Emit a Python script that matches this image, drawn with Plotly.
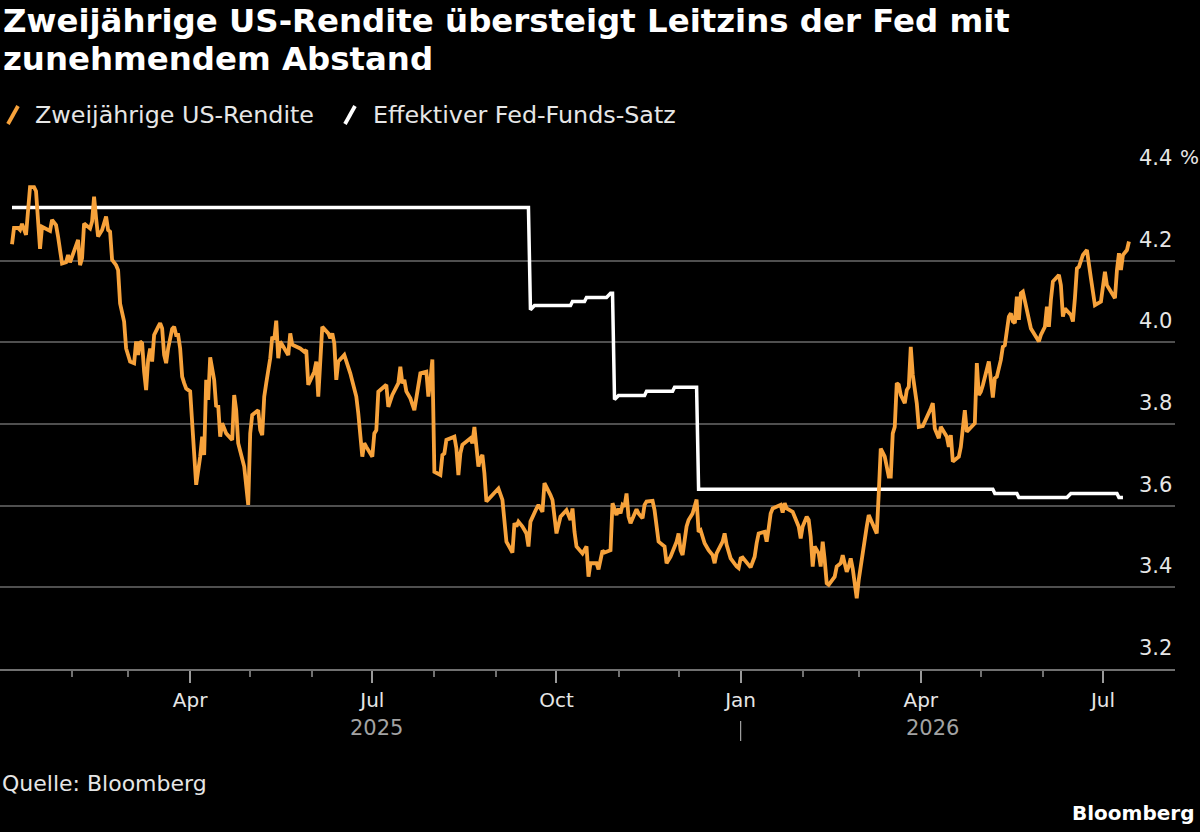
import plotly.graph_objects as go

# ---------------- data ----------------
TITLE_LINES = ["Zweijährige US-Rendite übersteigt Leitzins der Fed mit",
               "zunehmendem Abstand"]
SERIES_NAMES = ["Zweijährige US-Rendite", "Effektiver Fed-Funds-Satz"]
SOURCE = "Quelle: Bloomberg"
BRAND = "Bloomberg"

yield_dates = [
    "2025-01-02", "2025-01-03", "2025-01-05", "2025-01-06", "2025-01-07", "2025-01-09", "2025-01-11", "2025-01-13",
    "2025-01-14", "2025-01-15", "2025-01-16", "2025-01-17", "2025-01-19", "2025-01-21", "2025-01-22", "2025-01-24",
    "2025-01-25", "2025-01-26", "2025-01-27", "2025-01-29", "2025-01-30", "2025-01-31", "2025-02-01", "2025-02-04",
    "2025-02-05", "2025-02-06", "2025-02-07", "2025-02-09", "2025-02-10", "2025-02-11", "2025-02-12", "2025-02-13",
    "2025-02-14", "2025-02-16", "2025-02-18", "2025-02-19", "2025-02-20", "2025-02-21", "2025-02-23", "2025-02-24",
    "2025-02-25", "2025-02-27", "2025-02-28", "2025-03-02", "2025-03-04", "2025-03-05", "2025-03-06", "2025-03-07",
    "2025-03-08", "2025-03-09", "2025-03-10", "2025-03-11", "2025-03-12", "2025-03-13", "2025-03-14", "2025-03-16",
    "2025-03-17", "2025-03-18", "2025-03-19", "2025-03-20", "2025-03-21", "2025-03-23", "2025-03-24", "2025-03-25",
    "2025-03-26", "2025-03-27", "2025-03-28", "2025-03-29", "2025-03-30", "2025-04-01", "2025-04-03", "2025-04-04",
    "2025-04-06", "2025-04-07", "2025-04-08", "2025-04-09", "2025-04-10", "2025-04-11", "2025-04-13", "2025-04-14",
    "2025-04-15", "2025-04-16", "2025-04-17", "2025-04-19", "2025-04-22", "2025-04-23", "2025-04-24", "2025-04-25",
    "2025-04-28", "2025-04-29", "2025-04-30", "2025-05-01", "2025-05-02", "2025-05-05", "2025-05-06", "2025-05-07",
    "2025-05-08", "2025-05-09", "2025-05-11", "2025-05-12", "2025-05-13", "2025-05-14", "2025-05-15", "2025-05-16",
    "2025-05-18", "2025-05-19", "2025-05-20", "2025-05-21", "2025-05-22", "2025-05-26", "2025-05-28", "2025-05-29",
    "2025-05-30", "2025-06-02", "2025-06-03", "2025-06-04", "2025-06-05", "2025-06-06", "2025-06-09", "2025-06-10",
    "2025-06-11", "2025-06-12", "2025-06-13", "2025-06-14", "2025-06-17", "2025-06-20", "2025-06-23", "2025-06-24",
    "2025-06-26", "2025-06-27", "2025-06-28", "2025-07-01", "2025-07-02", "2025-07-03", "2025-07-04", "2025-07-08",
    "2025-07-09", "2025-07-11", "2025-07-14", "2025-07-15", "2025-07-16", "2025-07-17", "2025-07-18", "2025-07-20",
    "2025-07-22", "2025-07-24", "2025-07-25", "2025-07-28", "2025-07-29", "2025-07-30", "2025-07-31", "2025-08-01",
    "2025-08-04", "2025-08-05", "2025-08-06", "2025-08-07", "2025-08-11", "2025-08-12", "2025-08-13", "2025-08-14",
    "2025-08-15", "2025-08-19", "2025-08-20", "2025-08-21", "2025-08-22", "2025-08-23", "2025-08-24", "2025-08-25",
    "2025-08-26", "2025-08-27", "2025-08-30", "2025-09-02", "2025-09-04", "2025-09-05", "2025-09-06", "2025-09-09",
    "2025-09-10", "2025-09-11", "2025-09-12", "2025-09-14", "2025-09-16", "2025-09-17", "2025-09-18", "2025-09-21",
    "2025-09-22", "2025-09-24", "2025-09-25", "2025-09-28", "2025-09-29", "2025-09-30", "2025-10-01", "2025-10-03",
    "2025-10-06", "2025-10-08", "2025-10-09", "2025-10-10", "2025-10-11", "2025-10-14", "2025-10-16", "2025-10-17",
    "2025-10-18", "2025-10-21", "2025-10-22", "2025-10-24", "2025-10-25", "2025-10-28", "2025-10-29", "2025-10-31",
    "2025-11-01", "2025-11-02", "2025-11-03", "2025-11-04", "2025-11-05", "2025-11-06", "2025-11-07", "2025-11-10",
    "2025-11-11", "2025-11-13", "2025-11-14", "2025-11-15", "2025-11-18", "2025-11-19", "2025-11-20", "2025-11-21",
    "2025-11-24", "2025-11-25", "2025-11-27", "2025-11-30", "2025-12-01", "2025-12-02", "2025-12-03", "2025-12-05",
    "2025-12-06", "2025-12-08", "2025-12-10", "2025-12-11", "2025-12-12", "2025-12-14", "2025-12-16", "2025-12-18",
    "2025-12-19", "2025-12-20", "2025-12-23", "2025-12-24", "2025-12-25", "2025-12-27", "2025-12-30", "2025-12-31",
    "2026-01-01", "2026-01-02", "2026-01-06", "2026-01-08", "2026-01-09", "2026-01-10", "2026-01-13", "2026-01-14",
    "2026-01-15", "2026-01-16", "2026-01-17", "2026-01-21", "2026-01-22", "2026-01-23", "2026-01-24", "2026-01-27",
    "2026-01-28", "2026-01-30", "2026-01-31", "2026-02-01", "2026-02-03", "2026-02-04", "2026-02-05", "2026-02-06",
    "2026-02-07", "2026-02-09", "2026-02-10", "2026-02-11", "2026-02-12", "2026-02-13", "2026-02-14", "2026-02-17",
    "2026-02-18", "2026-02-20", "2026-02-21", "2026-02-22", "2026-02-23", "2026-02-24", "2026-02-25", "2026-02-26",
    "2026-02-27", "2026-02-28", "2026-03-01", "2026-03-03", "2026-03-05", "2026-03-06", "2026-03-07", "2026-03-10",
    "2026-03-11", "2026-03-12", "2026-03-14", "2026-03-16", "2026-03-17", "2026-03-18", "2026-03-19", "2026-03-20",
    "2026-03-21", "2026-03-22", "2026-03-24", "2026-03-25", "2026-03-26", "2026-03-27", "2026-03-28", "2026-03-30",
    "2026-03-31", "2026-04-02", "2026-04-06", "2026-04-07", "2026-04-08", "2026-04-09", "2026-04-10", "2026-04-11",
    "2026-04-14", "2026-04-15", "2026-04-16", "2026-04-17", "2026-04-20", "2026-04-21", "2026-04-22", "2026-04-23",
    "2026-04-24", "2026-04-27", "2026-04-28", "2026-04-29", "2026-04-30", "2026-05-01", "2026-05-02", "2026-05-05",
    "2026-05-06", "2026-05-07", "2026-05-08", "2026-05-09", "2026-05-11", "2026-05-12", "2026-05-13", "2026-05-15",
    "2026-05-16", "2026-05-17", "2026-05-18", "2026-05-19", "2026-05-20", "2026-05-21", "2026-05-22", "2026-05-23",
    "2026-05-24", "2026-05-26", "2026-05-27", "2026-05-30", "2026-05-31", "2026-06-02", "2026-06-03", "2026-06-04",
    "2026-06-05", "2026-06-06", "2026-06-09", "2026-06-10", "2026-06-11", "2026-06-12", "2026-06-15", "2026-06-16",
    "2026-06-17", "2026-06-18", "2026-06-19", "2026-06-21", "2026-06-23", "2026-06-24", "2026-06-25", "2026-06-26",
    "2026-06-27", "2026-06-30", "2026-07-01", "2026-07-02", "2026-07-03", "2026-07-06", "2026-07-07", "2026-07-08",
    "2026-07-09", "2026-07-10", "2026-07-11", "2026-07-13", "2026-07-14",
]
yield_values = [
    4.240, 4.280, 4.280, 4.275, 4.290, 4.263, 4.380, 4.380,
    4.370, 4.287, 4.229, 4.283, 4.279, 4.273, 4.300, 4.287,
    4.259, 4.222, 4.193, 4.196, 4.214, 4.196, 4.210, 4.251,
    4.189, 4.206, 4.291, 4.283, 4.279, 4.296, 4.357, 4.304,
    4.259, 4.275, 4.308, 4.275, 4.271, 4.202, 4.189, 4.177,
    4.095, 4.051, 3.985, 3.953, 3.949, 4.002, 3.969, 4.002,
    3.998, 3.928, 3.883, 3.957, 3.985, 3.953, 4.018, 4.038,
    4.047, 4.034, 3.969, 3.949, 3.985, 4.033, 4.038, 4.018,
    4.018, 3.985, 3.916, 3.900, 3.887, 3.880, 3.712, 3.651,
    3.720, 3.769, 3.724, 3.908, 3.859, 3.963, 3.908, 3.842,
    3.846, 3.769, 3.802, 3.777, 3.761, 3.871, 3.834, 3.753,
    3.696, 3.647, 3.602, 3.777, 3.822, 3.834, 3.785, 3.773,
    3.867, 3.900, 3.961, 4.014, 4.006, 4.053, 3.961, 4.002,
    3.985, 3.973, 3.969, 4.022, 3.994, 3.985, 3.977, 3.981,
    3.896, 3.928, 3.953, 3.867, 3.940, 4.038, 4.022, 4.010,
    4.022, 3.998, 3.908, 3.953, 3.969, 3.924, 3.867, 3.826,
    3.720, 3.753, 3.744, 3.720, 3.777, 3.785, 3.879, 3.896,
    3.842, 3.871, 3.900, 3.940, 3.900, 3.908, 3.880, 3.863,
    3.834, 3.900, 3.924, 3.928, 3.867, 3.908, 3.958, 3.683,
    3.675, 3.724, 3.728, 3.761, 3.769, 3.740, 3.675, 3.728,
    3.749, 3.765, 3.753, 3.793, 3.744, 3.696, 3.716, 3.724,
    3.679, 3.610, 3.626, 3.642, 3.614, 3.569, 3.512, 3.485,
    3.557, 3.549, 3.561, 3.549, 3.532, 3.500, 3.561, 3.593,
    3.602, 3.585, 3.655, 3.626, 3.614, 3.573, 3.532, 3.573,
    3.589, 3.565, 3.593, 3.536, 3.500, 3.483, 3.500, 3.426,
    3.459, 3.459, 3.444, 3.490, 3.485, 3.491, 3.606, 3.577,
    3.593, 3.581, 3.602, 3.598, 3.630, 3.573, 3.557, 3.591,
    3.581, 3.569, 3.602, 3.610, 3.612, 3.589, 3.544, 3.512,
    3.500, 3.459, 3.475, 3.512, 3.532, 3.491, 3.479, 3.549,
    3.565, 3.581, 3.615, 3.536, 3.540, 3.508, 3.491, 3.479,
    3.459, 3.483, 3.512, 3.532, 3.504, 3.471, 3.451, 3.447,
    3.471, 3.473, 3.449, 3.475, 3.508, 3.532, 3.536, 3.512,
    3.544, 3.581, 3.593, 3.602, 3.583, 3.606, 3.593, 3.585,
    3.573, 3.549, 3.520, 3.549, 3.573, 3.565, 3.524, 3.451,
    3.500, 3.483, 3.451, 3.512, 3.467, 3.410, 3.406, 3.426,
    3.451, 3.459, 3.479, 3.459, 3.438, 3.451, 3.471, 3.446,
    3.402, 3.373, 3.418, 3.491, 3.549, 3.577, 3.565, 3.532,
    3.630, 3.740, 3.720, 3.671, 3.671, 3.777, 3.793, 3.900,
    3.896, 3.871, 3.851, 3.883, 3.891, 3.989, 3.920, 3.851,
    3.793, 3.795, 3.838, 3.851, 3.789, 3.777, 3.765, 3.793,
    3.769, 3.744, 3.773, 3.708, 3.720, 3.744, 3.793, 3.834,
    3.781, 3.797, 3.802, 3.949, 3.871, 3.879, 3.895, 3.953,
    3.904, 3.865, 3.912, 3.916, 3.957, 3.989, 3.993, 4.063,
    4.071, 4.051, 4.047, 4.112, 4.055, 4.120, 4.124, 4.100,
    4.071, 4.034, 4.026, 4.002, 4.018, 4.038, 4.087, 4.038,
    4.104, 4.149, 4.165, 4.140, 4.063, 4.083, 4.067, 4.051,
    4.108, 4.181, 4.185, 4.214, 4.226, 4.181, 4.157, 4.124,
    4.091, 4.100, 4.136, 4.173, 4.140, 4.116, 4.108, 4.177,
    4.218, 4.177, 4.214, 4.226, 4.247,
]

ffr_dates = [
    "2025-01-02", "2025-09-17", "2025-09-18", "2025-09-20", "2025-10-08", "2025-10-09", "2025-10-15",
    "2025-10-16", "2025-10-26", "2025-10-28", "2025-10-29", "2025-10-30", "2025-11-01", "2025-11-14",
    "2025-11-15", "2025-11-28", "2025-11-29", "2025-12-10", "2025-12-11", "2026-05-07", "2026-05-08",
    "2026-05-19", "2026-05-20", "2026-06-13", "2026-06-15", "2026-07-08", "2026-07-09", "2026-07-11",
]
ffr_values = [
    4.33, 4.33, 4.08, 4.09, 4.09, 4.10, 4.10,
    4.11, 4.11, 4.12, 4.12, 3.86, 3.87, 3.87,
    3.88, 3.88, 3.89, 3.89, 3.64, 3.64, 3.63,
    3.63, 3.62, 3.62, 3.63, 3.63, 3.62, 3.62,
]

y_tick_values = [3.2, 3.4, 3.6, 3.8, 4.0, 4.2, 4.4]
y_unit = "%"
x_tick_dates = ["2025-04-01", "2025-07-01", "2025-10-01", "2026-01-01", "2026-04-01", "2026-07-01"]
x_tick_labels = ["Apr", "Jul", "Oct", "Jan", "Apr", "Jul"]
x_minor_dates = ["2025-02-01", "2025-03-01", "2025-05-01", "2025-06-01", "2025-08-01", "2025-09-01",
                 "2025-11-01", "2025-12-01", "2026-02-01", "2026-03-01", "2026-05-01", "2026-06-01"]
year_labels = ["2025", "2026"]
year_divider_date = "2026-01-01"
x_range = ["2024-12-27", "2026-08-06"]
y_range = [3.2, 4.4]

# ---------------- styling / layout ----------------
W, H = 1200, 832
PLOT_L, PLOT_R, PLOT_T, PLOT_B = 0, 1175, 179, 669
PW, PH = PLOT_R - PLOT_L, PLOT_B - PLOT_T
ORANGE = "#f7a23b"
WHITE = "#ffffff"
GRID = "#4f4f4f"
AXIS = "#707070"
TEXT = "#e6e6e6"
MUTED = "#a3a3a3"
FONT = "DejaVu Sans"


def px_x(px):
    return (px - PLOT_L) / PW


def px_y(py):
    return (PLOT_B - py) / PH


fig = go.Figure()
fig.add_trace(go.Scatter(x=ffr_dates, y=ffr_values, mode="lines", name=SERIES_NAMES[1],
                         line=dict(color=WHITE, width=3.5), showlegend=False))
fig.add_trace(go.Scatter(x=yield_dates, y=yield_values, mode="lines", name=SERIES_NAMES[0],
                         line=dict(color=ORANGE, width=3.8), showlegend=False))

annotations = []
shapes = []

# title (two lines)
for i, line in enumerate(TITLE_LINES):
    annotations.append(dict(text=f"<b>{line}</b>", x=px_x(1), y=px_y(21 + i * 38), xref="paper", yref="paper",
                            xanchor="left", yanchor="middle", showarrow=False,
                            font=dict(family=FONT, size=32.4, color=WHITE)))

# legend
legend_items = [(SERIES_NAMES[0], ORANGE, 8, 33), (SERIES_NAMES[1], WHITE, 345, 371)]
for name, col, sx, tx in legend_items:
    shapes.append(dict(type="line", xref="paper", yref="paper",
                       x0=px_x(sx), y0=px_y(124), x1=px_x(sx + 10), y1=px_y(106),
                       line=dict(color=col, width=3.8)))
    annotations.append(dict(text=name, x=px_x(tx), y=px_y(115), xref="paper", yref="paper",
                            xanchor="left", yanchor="middle", showarrow=False,
                            font=dict(family=FONT, size=23.8, color=TEXT)))

# y tick labels (above the grid lines, right side)
for v in y_tick_values:
    annotations.append(dict(text=f"{v:.1f}", x=px_x(1174), y=v, xref="paper", yref="y",
                            xanchor="right", yanchor="middle", yshift=21, showarrow=False,
                            font=dict(family=FONT, size=21, color=TEXT)))
annotations.append(dict(text=y_unit, x=px_x(1178), y=y_tick_values[-1], xref="paper", yref="y",
                        xanchor="left", yanchor="middle", yshift=22, showarrow=False,
                        font=dict(family=FONT, size=20, color=TEXT)))

# year labels under the month labels
for lab, cx in zip(year_labels, [376, 933]):
    annotations.append(dict(text=lab, x=px_x(cx), y=px_y(728), xref="paper", yref="paper",
                            xanchor="center", yanchor="middle", showarrow=False,
                            font=dict(family=FONT, size=21, color=MUTED)))
shapes.append(dict(type="line", xref="x", yref="paper", x0=year_divider_date, x1=year_divider_date,
                   y0=px_y(721), y1=px_y(741), line=dict(color=MUTED, width=1.2)))

# footer
annotations.append(dict(text=SOURCE, x=px_x(0), y=px_y(783), xref="paper", yref="paper",
                        xanchor="left", yanchor="middle", showarrow=False,
                        font=dict(family=FONT, size=22, color=TEXT)))
annotations.append(dict(text=f"<b>{BRAND}</b>", x=px_x(1196), y=px_y(813), xref="paper", yref="paper",
                        xanchor="right", yanchor="middle", showarrow=False,
                        font=dict(family=FONT, size=20, color=WHITE)))

fig.update_layout(
    width=W, height=H,
    margin=dict(l=PLOT_L, r=W - PLOT_R, t=PLOT_T, b=H - PLOT_B, pad=0),
    paper_bgcolor="#000000", plot_bgcolor="#000000",
    font=dict(family=FONT, color=TEXT),
    showlegend=False,
    annotations=annotations, shapes=shapes,
    xaxis=dict(type="date", range=x_range, showgrid=False, zeroline=False,
               showline=True, linecolor=AXIS, linewidth=2,
               tickmode="array", tickvals=x_tick_dates, ticktext=x_tick_labels,
               ticks="outside", ticklen=12, tickwidth=1.5, tickcolor="#9a9a9a",
               tickfont=dict(family=FONT, size=20, color=TEXT), ticklabelstandoff=0,
               minor=dict(tickmode="array", tickvals=x_minor_dates, ticks="outside",
                          ticklen=6, tickwidth=1.5, tickcolor=AXIS, showgrid=False)),
    yaxis=dict(range=y_range, showgrid=True, gridcolor=GRID, gridwidth=1.5,
               tickmode="array", tickvals=y_tick_values, showticklabels=False,
               zeroline=False, showline=False, ticks=""),
)

fig.write_html("out.html")
